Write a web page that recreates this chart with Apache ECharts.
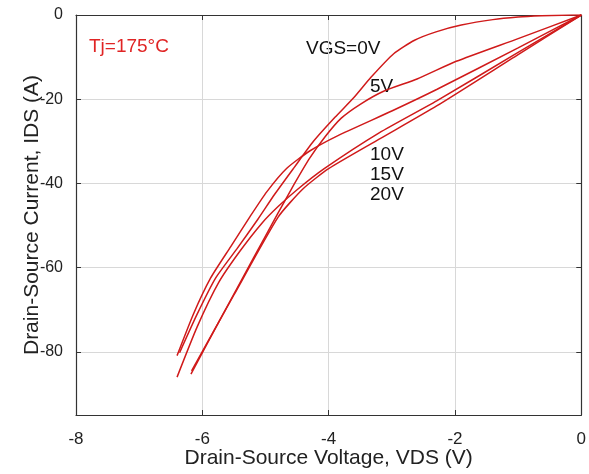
<!DOCTYPE html>
<html>
<head>
<meta charset="utf-8">
<script src="https://cdn.jsdelivr.net/npm/echarts@6/dist/echarts.min.js"></script>
<style>
html,body{margin:0;padding:0;background:#fff;}
#c{width:589px;height:474px;}
</style>
</head>
<body>
<div id="c"></div>
<script>
// Data (VDS in V, IDS in A)
var vgs0V = [[0,0],[-0.3,-0.05],[-0.63,-0.2],[-1.0,-0.5],[-1.4,-1.1],[-1.9,-2.4],[-2.3,-4.0],[-2.64,-6.0],[-2.97,-9.2],[-3.33,-14.8],[-3.6,-19.6],[-3.9,-24.3],[-4.24,-30.0],[-4.55,-36.3],[-4.86,-42.7],[-5.12,-48.5],[-5.45,-55.5],[-5.79,-62.5],[-6.08,-71.0],[-6.36,-80.2]];
var vgs5V = [[0,0],[-1.0,-5.6],[-1.98,-11.0],[-2.6,-15.2],[-3.13,-18.1],[-3.5,-21.2],[-3.8,-24.5],[-4.05,-28.8],[-4.3,-34.0],[-4.55,-40.3],[-4.80,-47.0],[-5.2,-58.0],[-5.7,-71.8],[-6.18,-85.3]];
var vgs10V = [[0,0],[-1.0,-7.8],[-2.29,-17.7],[-3.0,-22.8],[-3.86,-28.7],[-4.3,-32.3],[-4.67,-36.5],[-4.98,-42.0],[-5.25,-48.0],[-5.55,-55.0],[-5.87,-62.5],[-6.14,-71.0],[-6.40,-80.9]];
var vgs15V = [[0,0],[-1.0,-8.9],[-2.29,-20.4],[-3.2,-28.0],[-4.07,-36.5],[-4.5,-41.5],[-4.8,-45.5],[-5.06,-49.5],[-5.4,-56.0],[-5.74,-63.5],[-6.08,-74.0],[-6.40,-86.0]];
var vgs20V = [[0,0],[-1.0,-9.4],[-2.29,-21.6],[-3.2,-29.5],[-4.0,-36.5],[-4.4,-41.2],[-4.80,-48.0],[-5.5,-66.5],[-6.17,-84.5]];
var seriesNames = ['VGS=0V','5V','10V','15V','20V'];
var xMin = -8, xMax = 0, xStep = 2;
var yMin = -95, yMax = 0;

var chart = echarts.init(document.getElementById('c'), null, {renderer:'canvas'});
var red = '#d01a1a';
var lineFont = 'Liberation Sans, Arial, sans-serif';
function mkSeries(name, data){
  return {name:name, type:'line', data:data, showSymbol:false, smooth:0.2,
    lineStyle:{color:red, width:1.5}, xAxisIndex:0, yAxisIndex:0, animation:false};
}
var hideNon20 = function(v){ return (Math.round(v) % 20 === 0) ? String(v) : ''; };
chart.setOption({
  animation:false,
  backgroundColor:'#fff',
  grid:{left:76, right:3, top:15, bottom:56, containLabel:false},
  xAxis:[{
    type:'value', min:xMin, max:xMax, interval:xStep, position:'bottom',
    axisLine:{show:true, onZero:false, lineStyle:{color:'#333', width:1.2}},
    axisTick:{show:true, inside:true, length:5, lineStyle:{color:'#333'}},
    axisLabel:{color:'#222', fontSize:17, fontFamily:lineFont, margin:16},
    splitLine:{show:true, lineStyle:{color:'#d8d8d8', width:1}},
    name:'Drain-Source Voltage, VDS (V)', nameLocation:'middle', nameGap:33, nameMoveOverlap:false,
    nameTextStyle:{color:'#222', fontSize:21, fontFamily:lineFont}
  },{
    type:'value', min:xMin, max:xMax, interval:xStep, position:'top',
    axisLine:{show:true, onZero:false, lineStyle:{color:'#333', width:1.2}},
    axisTick:{show:true, inside:true, length:5, lineStyle:{color:'#333'}},
    axisLabel:{show:false}, splitLine:{show:false}
  }],
  yAxis:[{
    type:'value', min:yMin, max:yMax, splitNumber:5, position:'left',
    axisLine:{show:true, onZero:false, lineStyle:{color:'#333', width:1.2}},
    axisTick:{show:true, inside:true, length:5, lineStyle:{color:'#333'}},
    axisLabel:{color:'#222', fontSize:16, fontFamily:lineFont, margin:13, formatter:hideNon20},
    splitLine:{show:true, lineStyle:{color:'#d8d8d8', width:1}},
    name:'Drain-Source Current, IDS (A)', nameLocation:'middle', nameGap:33, nameMoveOverlap:false,
    nameTextStyle:{color:'#222', fontSize:21, fontFamily:lineFont}
  },{
    type:'value', min:yMin, max:yMax, splitNumber:5, position:'right',
    axisLine:{show:true, onZero:false, lineStyle:{color:'#333', width:1.2}},
    axisTick:{show:true, inside:true, length:5, lineStyle:{color:'#333'}},
    axisLabel:{show:false}, splitLine:{show:false}
  }],
  series:[
    mkSeries(seriesNames[0], vgs0V),
    mkSeries(seriesNames[1], vgs5V),
    mkSeries(seriesNames[2], vgs10V),
    mkSeries(seriesNames[3], vgs15V),
    mkSeries(seriesNames[4], vgs20V)
  ],
  graphic:[
    {type:'text', x:89, y:47, style:{text:'Tj=175°C', fill:'#e02424', font:'19px ' + lineFont, textVerticalAlign:'middle'}},
    {type:'text', x:306, y:49, style:{text:'VGS=0V', fill:'#111', font:'19px ' + lineFont, textVerticalAlign:'middle'}},
    {type:'text', x:370, y:87, style:{text:'5V', fill:'#111', font:'19px ' + lineFont, textVerticalAlign:'middle'}},
    {type:'text', x:370, y:155, style:{text:'10V', fill:'#111', font:'19px ' + lineFont, textVerticalAlign:'middle'}},
    {type:'text', x:370, y:175, style:{text:'15V', fill:'#111', font:'19px ' + lineFont, textVerticalAlign:'middle'}},
    {type:'text', x:370, y:195, style:{text:'20V', fill:'#111', font:'19px ' + lineFont, textVerticalAlign:'middle'}}
  ]
});
</script>
</body>
</html>
